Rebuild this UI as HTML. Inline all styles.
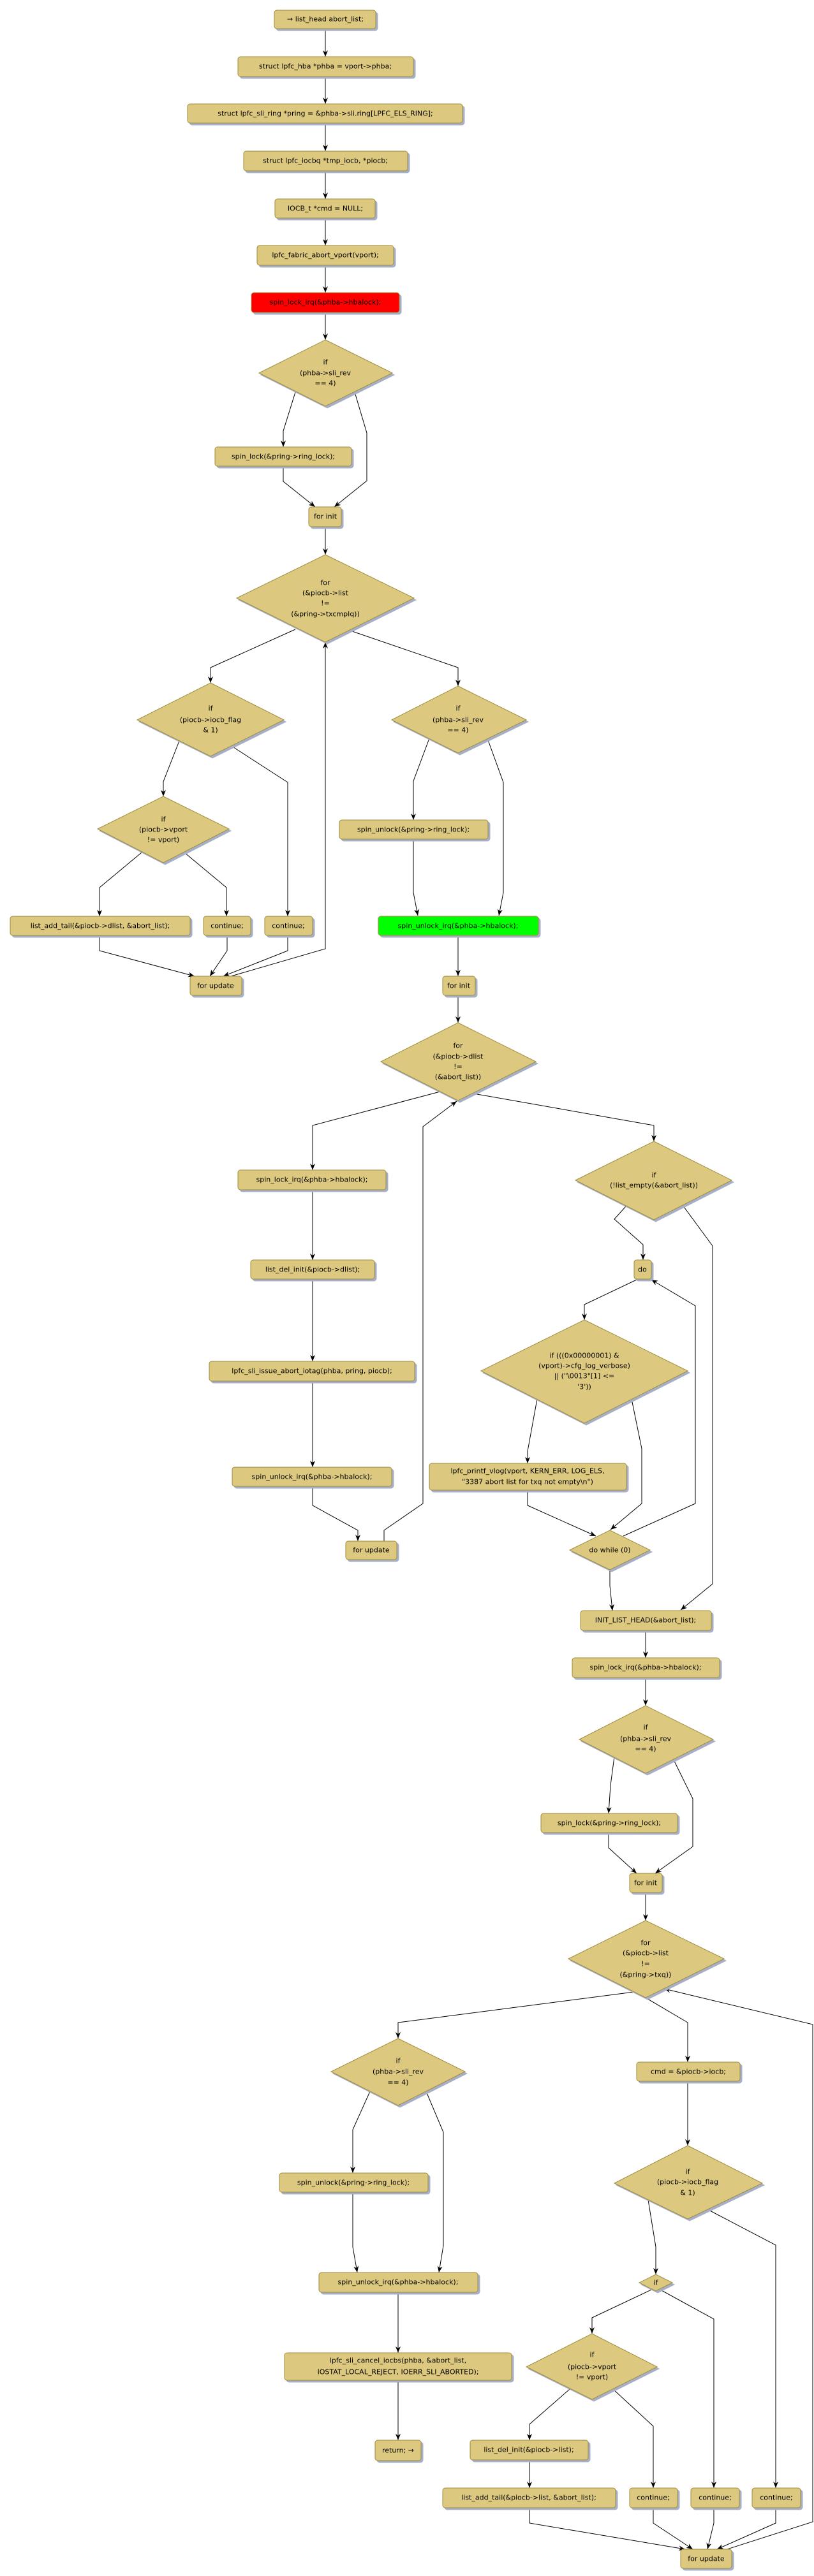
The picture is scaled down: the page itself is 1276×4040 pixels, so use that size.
<!DOCTYPE html>
<html><head><meta charset="utf-8"><style>
body{margin:0;background:#fff}
svg{display:block}
.n{fill:#dcc97f;stroke:#9e8c3e;stroke-width:1;filter:drop-shadow(3px 3px 0 #a7afc6)}
.e{fill:none;stroke:#000;stroke-width:1;marker-end:url(#a)}
text{font-family:"DejaVu Sans","Liberation Sans",sans-serif;font-size:11px;fill:#000;text-anchor:middle;dominant-baseline:central}
</style></head><body>
<svg width="1276" height="4040" viewBox="0 0 1276 4040" xmlns="http://www.w3.org/2000/svg">
<defs><marker id="a" markerUnits="userSpaceOnUse" markerWidth="10" markerHeight="8" refX="10" refY="4" orient="auto"><path d="M0,0 L10,4 L0,8 L3,4 z" fill="#000"/></marker></defs>

<!-- edges -->
<polyline class="e" points="510,45 510,89"/>
<polyline class="e" points="510,120 510,163"/>
<polyline class="e" points="510,193 510,237"/>
<polyline class="e" points="510,268 510,312"/>
<polyline class="e" points="510,342 510,385"/>
<polyline class="e" points="510,416 510,459"/>
<polyline class="e" points="510,490 510,533"/>
<polyline class="e" points="463,615 444,676 444,701"/>
<polyline class="e" points="556,615 575,679 575,754 524,795"/>
<polyline class="e" points="444,731 444,755 494,795"/>
<polyline class="e" points="510,826 510,870"/>
<polyline class="e" points="463,987 330,1047 330,1071"/>
<polyline class="e" points="549,989 718,1047 718,1076"/>
<polyline class="e" points="281,1162 256,1226 256,1249"/>
<polyline class="e" points="363,1170 451,1227 451,1437"/>
<polyline class="e" points="222,1337 156,1392 156,1437"/>
<polyline class="e" points="289,1337 355,1392 355,1437"/>
<polyline class="e" points="673,1158 648,1225 648,1286"/>
<polyline class="e" points="764,1158 789,1227 789,1400 782,1436"/>
<polyline class="e" points="648,1316 648,1400 655,1436"/>
<polyline class="e" points="156,1467 156,1491 305,1531"/>
<polyline class="e" points="356,1467 356,1491 329,1531"/>
<polyline class="e" points="451,1467 451,1491 350,1531"/>
<polyline class="e" points="362,1531 510,1488 510,1007"/>
<polyline class="e" points="718,1467 718,1531"/>
<polyline class="e" points="718,1561 718,1604"/>
<polyline class="e" points="690,1712 490,1765 490,1835"/>
<polyline class="e" points="742,1715 1025,1765 1025,1790"/>
<polyline class="e" points="490,1866 490,1976"/>
<polyline class="e" points="490,2006 490,2135"/>
<polyline class="e" points="490,2166 490,2301"/>
<polyline class="e" points="490,2331 490,2361 561,2400 561,2417"/>
<polyline class="e" points="602,2417 602,2400 663,2358 663,1767 716,1727"/>
<polyline class="e" points="981,1892 963,1912 1008,1952 1008,1976"/>
<polyline class="e" points="1070,1890 1117,1954 1117,2484 1067,2525"/>
<polyline class="e" points="998,2007 916,2046 916,2070"/>
<polyline class="e" points="842,2194 827,2276 827,2295"/>
<polyline class="e" points="990,2194 1006,2272 1006,2358 957,2399"/>
<polyline class="e" points="827,2337 827,2361 934,2409"/>
<polyline class="e" points="977,2409 1090,2358 1090,2048 1021,2007"/>
<polyline class="e" points="956,2462 956,2487 960,2526"/>
<polyline class="e" points="1012,2557 1012,2600"/>
<polyline class="e" points="1012,2631 1012,2675"/>
<polyline class="e" points="963,2755 957,2800 954,2844"/>
<polyline class="e" points="1056,2760 1086,2821 1086,2896 1027,2938"/>
<polyline class="e" points="954,2874 954,2898 998,2938"/>
<polyline class="e" points="1012,2968 1012,3012"/>
<polyline class="e" points="994,3124 624,3172 624,3197"/>
<polyline class="e" points="1012,3133 1078,3172 1078,3234"/>
<polyline class="e" points="1140,3998 1274,3955 1274,3175 1041,3119"/>
<polyline class="e" points="580,3280 553,3340 553,3408"/>
<polyline class="e" points="668,3280 695,3344 695,3522 688,3564"/>
<polyline class="e" points="553,3438 553,3524 560,3564"/>
<polyline class="e" points="624,3595 624,3690"/>
<polyline class="e" points="624,3733 624,3827"/>
<polyline class="e" points="1078,3264 1078,3365"/>
<polyline class="e" points="1016,3450 1028,3524 1028,3567"/>
<polyline class="e" points="1109,3465 1216,3521 1216,3902"/>
<polyline class="e" points="1021,3591 928,3635 928,3660"/>
<polyline class="e" points="1035,3591 1119,3637 1119,3902"/>
<polyline class="e" points="893,3747 830,3802 830,3827"/>
<polyline class="e" points="961,3747 1024,3805 1024,3902"/>
<polyline class="e" points="830,3858 830,3902"/>
<polyline class="e" points="830,3933 830,3957 1074,3998"/>
<polyline class="e" points="1024,3933 1024,3957 1086,3998"/>
<polyline class="e" points="1119,3933 1119,3957 1109,3998"/>
<polyline class="e" points="1216,3933 1216,3957 1124,3998"/>

<!-- boxes -->
<rect class="n" x="430" y="16" width="159" height="29" rx="4"/><text x="510" y="30">→ list_head abort_list;</text>
<rect class="n" x="373" y="89" width="275" height="31" rx="4"/><text x="510" y="104">struct lpfc_hba  *phba = vport-&gt;phba;</text>
<rect class="n" x="294" y="163" width="431" height="30" rx="4"/><text x="510" y="178">struct lpfc_sli_ring *pring = &amp;phba-&gt;sli.ring[LPFC_ELS_RING];</text>
<rect class="n" x="382" y="237" width="257" height="31" rx="4"/><text x="510" y="252">struct lpfc_iocbq *tmp_iocb, *piocb;</text>
<rect class="n" x="431" y="312" width="157" height="30" rx="4"/><text x="510" y="327">IOCB_t *cmd = NULL;</text>
<rect class="n" x="403" y="385" width="214" height="31" rx="4"/><text x="510" y="400">lpfc_fabric_abort_vport(vport);</text>
<rect class="n" style="fill:#ff0000" x="394" y="459" width="232" height="31" rx="4"/><text x="510" y="474">spin_lock_irq(&amp;phba-&gt;hbalock);</text>
<rect class="n" x="337" y="701" width="214" height="30" rx="4"/><text x="444" y="716">spin_lock(&amp;pring-&gt;ring_lock);</text>
<rect class="n" x="484" y="795" width="51" height="31" rx="4"/><text x="510" y="810">for init</text>
<rect class="n" x="532" y="1286" width="233" height="30" rx="4"/><text x="648" y="1301">spin_unlock(&amp;pring-&gt;ring_lock);</text>
<rect class="n" x="16" y="1437" width="282" height="30" rx="4"/><text x="157" y="1452">list_add_tail(&amp;piocb-&gt;dlist, &amp;abort_list);</text>
<rect class="n" x="319" y="1437" width="74" height="30" rx="4"/><text x="356" y="1452">continue;</text>
<rect class="n" x="415" y="1437" width="75" height="30" rx="4"/><text x="452" y="1452">continue;</text>
<rect class="n" style="fill:#00ff00" x="593" y="1437" width="251" height="30" rx="4"/><text x="718" y="1452">spin_unlock_irq(&amp;phba-&gt;hbalock);</text>
<rect class="n" x="298" y="1531" width="81" height="30" rx="4"/><text x="338" y="1546">for update</text>
<rect class="n" x="694" y="1531" width="51" height="30" rx="4"/><text x="719" y="1546">for init</text>
<rect class="n" x="373" y="1835" width="232" height="31" rx="4"/><text x="489" y="1850">spin_lock_irq(&amp;phba-&gt;hbalock);</text>
<rect class="n" x="393" y="1976" width="194" height="30" rx="4"/><text x="490" y="1991">list_del_init(&amp;piocb-&gt;dlist);</text>
<rect class="n" x="994" y="1976" width="27" height="30" rx="4"/><text x="1007" y="1991">do</text>
<rect class="n" x="328" y="2135" width="322" height="31" rx="4"/><text x="489" y="2150">lpfc_sli_issue_abort_iotag(phba, pring, piocb);</text>
<rect class="n" x="364" y="2301" width="250" height="30" rx="4"/><text x="489" y="2316">spin_unlock_irq(&amp;phba-&gt;hbalock);</text>
<rect class="n" x="542" y="2417" width="80" height="29" rx="4"/><text x="582" y="2431">for update</text>
<rect class="n" x="673" y="2295" width="309" height="42" rx="4"/><text x="827" y="2307">lpfc_printf_vlog(vport, KERN_ERR, LOG_ELS,</text><text x="827" y="2324">"3387 abort list for txq not empty\n")</text>
<rect class="n" x="910" y="2526" width="205" height="31" rx="4"/><text x="1012" y="2541">INIT_LIST_HEAD(&amp;abort_list);</text>
<rect class="n" x="897" y="2600" width="231" height="31" rx="4"/><text x="1012" y="2615">spin_lock_irq(&amp;phba-&gt;hbalock);</text>
<rect class="n" x="848" y="2844" width="214" height="30" rx="4"/><text x="955" y="2859">spin_lock(&amp;pring-&gt;ring_lock);</text>
<rect class="n" x="987" y="2938" width="51" height="30" rx="4"/><text x="1012" y="2953">for init</text>
<rect class="n" x="998" y="3234" width="162" height="30" rx="4"/><text x="1079" y="3249">cmd = &amp;piocb-&gt;iocb;</text>
<rect class="n" x="438" y="3408" width="233" height="30" rx="4"/><text x="554" y="3423">spin_unlock(&amp;pring-&gt;ring_lock);</text>
<rect class="n" x="500" y="3564" width="249" height="31" rx="4"/><text x="624" y="3579">spin_unlock_irq(&amp;phba-&gt;hbalock);</text>
<rect class="n" x="446" y="3690" width="356" height="43" rx="4"/><text x="624" y="3702">lpfc_sli_cancel_iocbs(phba, &amp;abort_list,</text><text x="624" y="3720">IOSTAT_LOCAL_REJECT, IOERR_SLI_ABORTED);</text>
<rect class="n" x="588" y="3827" width="72" height="32" rx="4"/><text x="624" y="3843">return; →</text>
<rect class="n" x="737" y="3827" width="185" height="31" rx="4"/><text x="829" y="3842">list_del_init(&amp;piocb-&gt;list);</text>
<rect class="n" x="694" y="3902" width="271" height="31" rx="4"/><text x="829" y="3917">list_add_tail(&amp;piocb-&gt;list, &amp;abort_list);</text>
<rect class="n" x="987" y="3902" width="75" height="31" rx="4"/><text x="1024" y="3917">continue;</text>
<rect class="n" x="1083" y="3902" width="76" height="31" rx="4"/><text x="1121" y="3917">continue;</text>
<rect class="n" x="1179" y="3902" width="76" height="31" rx="4"/><text x="1217" y="3917">continue;</text>
<rect class="n" x="1067" y="3998" width="80" height="30" rx="4"/><text x="1107" y="4013">for update</text>

<!-- diamonds -->
<polygon class="n" points="510,533 615,585 510,637 406,585"/><text x="510" y="568">if</text><text x="510" y="585">(phba-&gt;sli_rev</text><text x="510" y="601">== 4)</text>
<polygon class="n" points="510,870 649,938 510,1007 371,938"/><text x="510" y="914">for</text><text x="510" y="930">(&amp;piocb-&gt;list</text><text x="510" y="946">!=</text><text x="510" y="963">(&amp;pring-&gt;txcmplq))</text>
<polygon class="n" points="330,1071 445,1129 330,1186 215,1129"/><text x="330" y="1111">if</text><text x="330" y="1129">(piocb-&gt;iocb_flag</text><text x="330" y="1145">&amp; 1)</text>
<polygon class="n" points="256,1249 359,1300 256,1353 153,1300"/><text x="256" y="1285">if</text><text x="256" y="1301">(piocb-&gt;vport</text><text x="256" y="1317">!= vport)</text>
<polygon class="n" points="718,1076 825,1129 718,1181 614,1129"/><text x="718" y="1111">if</text><text x="718" y="1129">(phba-&gt;sli_rev</text><text x="718" y="1145">== 4)</text>
<polygon class="n" points="718,1604 840,1665 718,1726 597,1665"/><text x="718" y="1640">for</text><text x="718" y="1657">(&amp;piocb-&gt;dlist</text><text x="718" y="1673">!=</text><text x="718" y="1689">(&amp;abort_list))</text>
<polygon class="n" points="1025,1790 1147,1851 1025,1913 902,1851"/><text x="1025" y="1843">if</text><text x="1025" y="1859">(!list_empty(&amp;abort_list))</text>
<polygon class="n" points="916,2070 1078,2150 916,2232 754,2150"/><text x="916" y="2126">if (((0x00000001) &amp;</text><text x="916" y="2142">(vport)-&gt;cfg_log_verbose)</text><text x="916" y="2158">|| ("\0013"[1] &lt;=</text><text x="916" y="2175">'3'))</text>
<polygon class="n" points="956,2400 1019,2431 956,2462 893,2431"/><text x="956" y="2431">do while (0)</text>
<polygon class="n" points="1012,2675 1118,2728 1012,2781 908,2728"/><text x="1012" y="2709">if</text><text x="1012" y="2727">(phba-&gt;sli_rev</text><text x="1012" y="2743">== 4)</text>
<polygon class="n" points="1012,3012 1135,3072 1012,3133 891,3072"/><text x="1012" y="3047">for</text><text x="1012" y="3063">(&amp;piocb-&gt;list</text><text x="1012" y="3080">!=</text><text x="1012" y="3097">(&amp;pring-&gt;txq))</text>
<polygon class="n" points="624,3197 729,3249 624,3302 519,3249"/><text x="624" y="3232">if</text><text x="624" y="3249">(phba-&gt;sli_rev</text><text x="624" y="3266">== 4)</text>
<polygon class="n" points="1078,3365 1195,3424 1078,3480 963,3424"/><text x="1078" y="3406">if</text><text x="1078" y="3422">(piocb-&gt;iocb_flag</text><text x="1078" y="3439">&amp; 1)</text>
<polygon class="n" points="1028,3567 1054,3580 1028,3593 1002,3580"/><text x="1028" y="3580">if</text>
<polygon class="n" points="928,3660 1030,3712 928,3763 825,3712"/><text x="928" y="3693">if</text><text x="928" y="3712">(piocb-&gt;vport</text><text x="928" y="3728">!= vport)</text>
</svg>
</body></html>
